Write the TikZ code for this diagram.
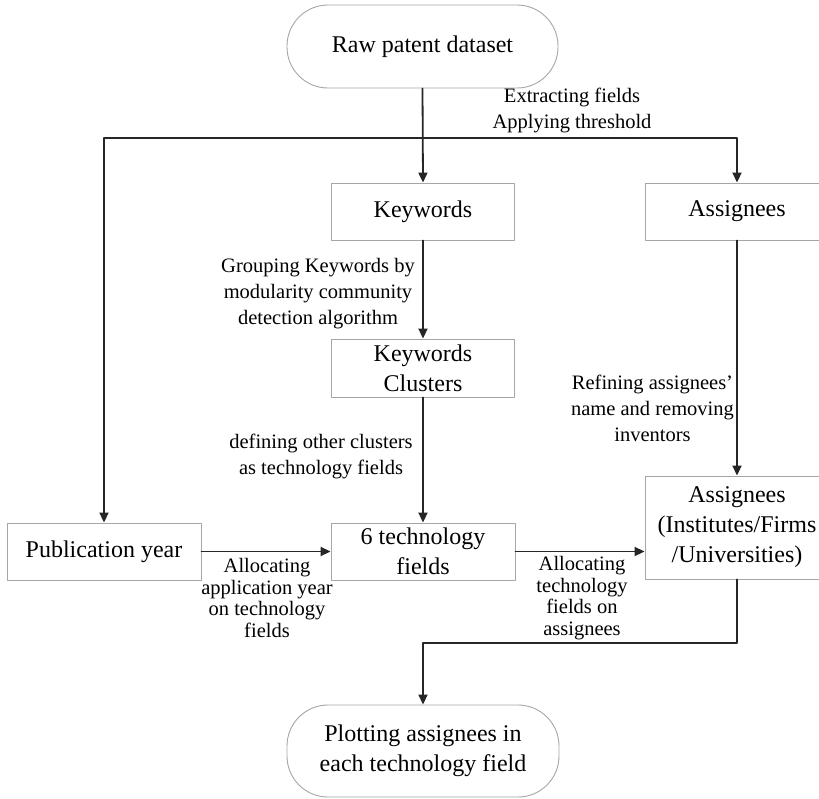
\documentclass[tikz,border=0pt]{standalone}
\usepackage{fontspec}
\setmainfont{Liberation Serif}
\usetikzlibrary{arrows.meta}

\tikzset{
  box/.style={draw=gray!70, line width=0.9pt, fill=white, align=center,
    font=\fontsize{24}{30}\selectfont, inner sep=0pt},
  term/.style={box, rounded corners=41pt},
  lbl/.style={align=center, font=\fontsize{20.5}{26}\selectfont, inner sep=0pt},
  lbltight/.style={align=center, font=\fontsize{20.5}{21.5}\selectfont, inner sep=0pt},
  arr/.style={line width=1.8pt, draw=black!85, -{Triangle[length=10pt,width=9pt]}},
  wire/.style={line width=1.8pt, draw=black!85}
}

\begin{document}
\begin{tikzpicture}[x=1pt, y=-1pt, line cap=round, line join=round]
    \clip (0,0) rectangle (819,798);

    % Inizio e fine
    \node[term, minimum width=271pt, minimum height=83pt] (raw) at (422.5,46.5) {Raw patent dataset};
    \node[term, minimum width=272pt, minimum height=92pt] (plot) at (423,751) {Plotting assignees in\\each technology field};

    % Colonna centrale
    \node[box, minimum width=183pt, minimum height=57pt] (kw) at (423,211.5) {Keywords};
    \node[box, minimum width=183pt, minimum height=58pt] (kwc) at (423,368) {Keywords\\Clusters};
    \node[box, minimum width=184pt, minimum height=57pt] (tech) at (423,551.5) {6 technology\\fields};

    % Colonne laterali
    \node[box, minimum width=194pt, minimum height=57pt] (pub) at (104,551.5) {Publication year};
    \node[box, minimum width=184pt, minimum height=57pt] (asg) at (737,211.5) {Assignees};
    \node[box, minimum width=184pt, minimum height=103pt] (asg2) at (737,527.5) {Assignees\\(Institutes/Firms\\/Universities)};

    % Punti di snodo
    \coordinate (split) at (423,138);
    \coordinate (bend) at (423,643);

    % Collegamenti
    \draw[arr] (raw.south) -- (kw.north);
    \draw[arr] (split) -| (pub.north);
    \draw[arr] (split) -| (asg.north);
    \draw[arr] (kw.south) -- (kwc.north);
    \draw[arr] (kwc.south) -- (tech.north);
    \draw[arr] (asg.south) -- (asg2.north);
    \draw[arr] (pub.east) -- (tech.west);
    \draw[arr] (tech.east) -- (tech.east -| asg2.west);
    \draw[arr] (asg2.south) |- (bend) -- (plot.north);

    % Etichette
    \node[lbl] (lextract) at (572,110) {Extracting fields\\Applying threshold};
    \node[lbl] (lgroup) at (318,294) {Grouping Keywords by\\modularity community\\detection algorithm};
    \node[lbl] (ldefine) at (321,456) {defining other clusters\\as technology fields};
    \node[lbl] (lrefine) at (652.5,408) {Refining assignees’\\name and removing\\inventors};
    \node[lbltight] (lyear) at (267,598) {Allocating\\application year\\on technology\\fields};
    \node[lbltight] (lalloc) at (582,598) {Allocating\\technology\\fields on\\assignees};
\end{tikzpicture}
\end{document}
